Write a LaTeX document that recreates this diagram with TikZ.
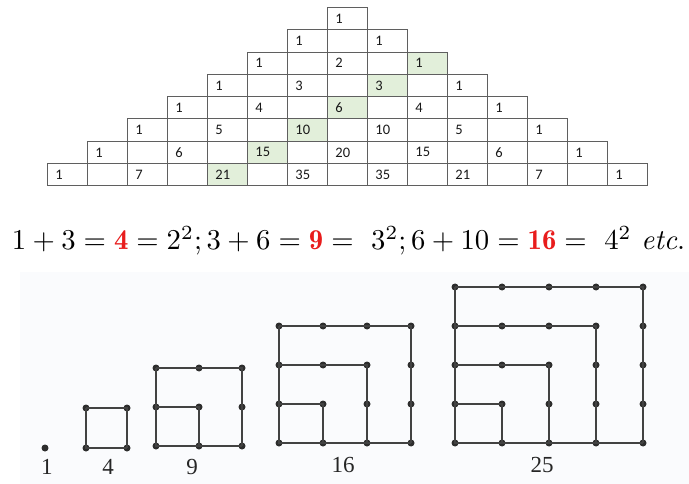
\documentclass[tikz,border=0pt]{standalone}
\usepackage{fontspec}
\newfontfamily\cellfont{Carlito}
\newfontfamily\labelfont{Liberation Serif}
\usetikzlibrary{positioning}

\definecolor{cellgreen}{RGB}{226,239,218}
\definecolor{cellline}{RGB}{95,95,95}
\definecolor{dotgray}{RGB}{45,45,45}
\definecolor{eqred}{RGB}{232,28,28}
\definecolor{scantint}{RGB}{250,251,253}

\begin{document}
\begin{tikzpicture}[x=1pt, y=-1pt,
    cell/.style={draw=cellline, line width=0.8pt, anchor=north west,
      minimum width=40pt, minimum height=22.3pt, inner ysep=0pt, inner xsep=8pt,
      text width=24pt, align=left, font=\cellfont\fontsize{14.5}{14.5}\selectfont, text=black!90},
    dot/.style={circle, fill=dotgray, minimum size=7pt, inner sep=0pt},
    gnomon/.style={draw=dotgray!90, line width=1.8pt},
    fig label/.style={font=\labelfont\fontsize{23}{23}\selectfont, text=black!85}
    ]

    \useasboundingbox (0,0) rectangle (689,484);

    % scanned part
    \fill[scantint] (20,272) rectangle (689,484);

    % Pascal triangle
    \foreach \r/\row in {0/{1}, 1/{1,1}, 2/{1,2,1}, 3/{1,3,3,1}, 4/{1,4,6,4,1},
        5/{1,5,10,10,5,1}, 6/{1,6,15,20,15,6,1}, 7/{1,7,21,35,35,21,7,1}} {
      % empty cells
      \ifnum\r>0
        \foreach \k in {1,...,\r}
          \node[cell] (e-\r-\k) at ({47+(7-\r+2*\k-1)*40}, {7+\r*22.3}) {};
      \fi
      % numbers
      \foreach \v [count=\k from 0] in \row {
        \ifnum\k=2 \def\cellfill{cellgreen}\else\def\cellfill{white}\fi
        \node[cell, fill=\cellfill] (p-\r-\k) at ({47+(7-\r+2*\k)*40}, {7+\r*22.3}) {\v};
      }
    }

    % equation
    \node (eq) at (348.5,241) {\resizebox{673pt}{!}{$1+3=\textcolor{eqred}{\mathbf{4}}=2^2;3+6=\textcolor{eqred}{\mathbf{9}}=\ 3^2;6+10=\textcolor{eqred}{\mathbf{16}}=\ 4^2\ \mathit{etc.}$}};

    % square numbers as dots
    \foreach \n/\ox/\oy/\dx/\dy in {1/45/448/0/0, 2/86/448/41/40, 3/156/446/43/39,
        4/279/443/44/39, 5/455/443/47/39} {
      \pgfmathtruncatemacro\m{\n-1}
      \foreach \i in {0,...,\m}
        \foreach \j in {0,...,\m}
          \node[dot] (f\n-\i-\j) at ({\ox+\i*\dx}, {\oy-\j*\dy}) {};
      \ifnum\n>1
        \draw[gnomon] (f\n-0-\m.center) -- (f\n-0-0.center) -- (f\n-\m-0.center);
        \foreach \k in {1,...,\m}
          \draw[gnomon] (f\n-0-\k.center) -- (f\n-\k-\k.center) -- (f\n-\k-0.center);
      \fi
    }

    \node[fig label] (l1) at (47,467) {1};
    \node[fig label] (l4) at (108,467) {4};
    \node[fig label] (l9) at (192,467) {9};
    \node[fig label] (l16) at (343,465) {16};
    \node[fig label] (l25) at (542,465) {25};

\end{tikzpicture}
\end{document}
